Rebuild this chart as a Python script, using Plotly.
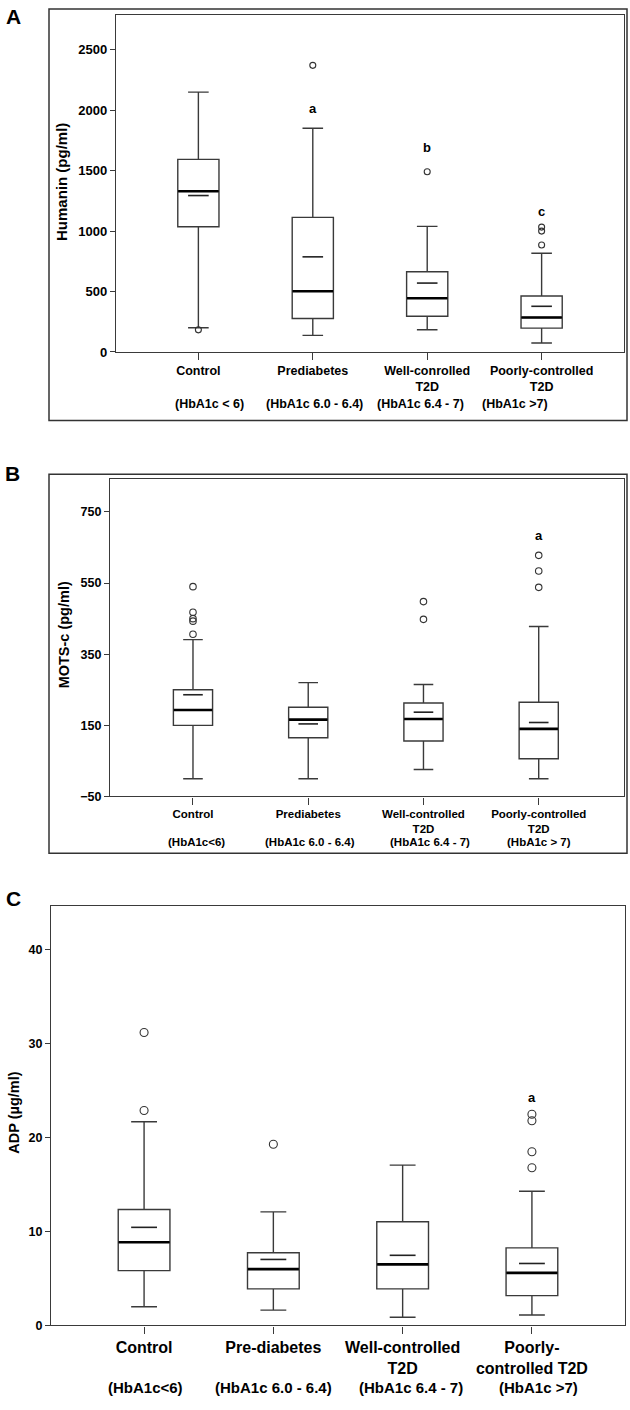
import plotly.graph_objects as go

W, H = 630, 1410

# ---------------- Panel A: Humanin ----------------
groups_A = ["Control", "Prediabetes", "Well-conrolled<br>T2D", "Poorly-controlled<br>T2D"]
hba1c_A = ["(HbA1c < 6)", "(HbA1c 6.0 - 6.4)", "(HbA1c 6.4 - 7)", "(HbA1c >7)"]
humanin_lower = [200, 137, 184, 74]
humanin_q1 = [1036, 277, 296, 197]
humanin_median = [1330, 502, 444, 285]
humanin_q3 = [1593, 1113, 664, 463]
humanin_upper = [2149, 1850, 1039, 817]
humanin_mean = [1294, 787, 570, 378]
humanin_out_group = [0, 1, 2, 3, 3, 3]
humanin_out_value = [183, 2371, 1491, 1033, 1000, 885]
humanin_sig_group = [1, 2, 3]
humanin_sig_text = ["a", "b", "c"]
humanin_sig_y = [2015, 1691, 1162]
humanin_ticks = [0, 500, 1000, 1500, 2000, 2500]

# ---------------- Panel B: MOTS-c ----------------
groups_B = ["Control", "Prediabetes", "Well-controlled<br>T2D", "Poorly-controlled<br>T2D"]
hba1c_B = ["(HbA1c<6)", "(HbA1c 6.0 - 6.4)", "(HbA1c 6.4 - 7)", "(HbA1c > 7)"]
mots_lower = [0, 0, 26, 0]
mots_q1 = [150, 115, 106, 56]
mots_median = [193, 166, 168, 140]
mots_q3 = [250, 201, 213, 215]
mots_upper = [391, 270, 265, 428]
mots_mean = [236, 154, 187, 158]
mots_out_group = [0, 0, 0, 0, 0, 2, 2, 3, 3, 3]
mots_out_value = [540, 468, 450, 443, 406, 498, 448, 628, 584, 538]
mots_sig_group = [3]
mots_sig_text = ["a"]
mots_sig_y = [685]
mots_ticks = [-50, 150, 350, 550, 750]

# ---------------- Panel C: ADP ----------------
groups_C = ["Control", "Pre-diabetes", "Well-controlled<br>T2D", "Poorly-<br>controlled T2D"]
hba1c_C = ["(HbA1c<6)", "(HbA1c 6.0 - 6.4)", "(HbA1c 6.4 - 7)", "(HbA1c >7)"]
adp_lower = [1.99, 1.63, 0.87, 1.11]
adp_q1 = [5.84, 3.89, 3.89, 3.18]
adp_median = [8.86, 6.0, 6.51, 5.6]
adp_q3 = [12.35, 7.74, 11.04, 8.26]
adp_upper = [21.7, 12.1, 17.08, 14.3]
adp_mean = [10.45, 7.03, 7.47, 6.6]
adp_out_group = [0, 0, 1, 3, 3, 3, 3]
adp_out_value = [31.2, 22.9, 19.3, 22.5, 21.8, 18.5, 16.8]
adp_sig_group = [3]
adp_sig_text = ["a"]
adp_sig_y = [24.3]
adp_ticks = [0, 10, 20, 30, 40]

FONT = "Liberation Sans, Arial, sans-serif"
LINE = "#3a3a3a"


def px_x(p):
    return p / W


def px_y(p):
    return 1 - p / H


fig = go.Figure()

panels = [
    dict(ax="", groups=groups_A, hba=hba1c_A, lower=humanin_lower, q1=humanin_q1, med=humanin_median,
         q3=humanin_q3, upper=humanin_upper, mean=humanin_mean, og=humanin_out_group, ov=humanin_out_value,
         sg=humanin_sig_group, st=humanin_sig_text, sy=humanin_sig_y, ticks=humanin_ticks,
         xdom=(116, 624), ydom=(15, 354), xr=[-0.72, 3.72], yr=[0, 2788], bw=0.36,
         title="Humanin (pg/ml)", title_xy=(62, 183), title_size=15,
         hba_x=[209, 314, 420, 515], hba_y=406, tick_size=13, cat_size=12.5, hba_size=12.5,
         osize=6, letter=("A", 13, 17), frame=(49, 9, 627, 423)),
    dict(ax="2", groups=groups_B, hba=hba1c_B, lower=mots_lower, q1=mots_q1, med=mots_median,
         q3=mots_q3, upper=mots_upper, mean=mots_mean, og=mots_out_group, ov=mots_out_value,
         sg=mots_sig_group, st=mots_sig_text, sy=mots_sig_y, ticks=mots_ticks,
         xdom=(110, 624), ydom=(482, 801), xr=[-0.72, 3.74], yr=[-50, 842], bw=0.34,
         title="MOTS-c (pg/ml)", title_xy=(64, 639), title_size=14.5,
         hba_x=[196, 310, 430, 539], hba_y=847, tick_size=12.5, cat_size=11.5, hba_size=11.5,
         osize=6.5, letter=("B", 12, 476), frame=(49, 477, 627, 858)),
    dict(ax="3", groups=groups_C, hba=hba1c_C, lower=adp_lower, q1=adp_q1, med=adp_median,
         q3=adp_q3, upper=adp_upper, mean=adp_mean, og=adp_out_group, ov=adp_out_value,
         sg=adp_sig_group, st=adp_sig_text, sy=adp_sig_y, ticks=adp_ticks,
         xdom=(51, 625), ydom=(911, 1333), xr=[-0.72, 3.72], yr=[0, 44.7], bw=0.40,
         title="ADP (µg/ml)", title_xy=(14, 1119), title_size=14.5,
         hba_x=[145, 273, 411, 538], hba_y=1395, tick_size=12.5, cat_size=16, hba_size=15,
         osize=8, letter=("C", 13, 904), frame=None),
]

annotations = []
shapes = []

for p in panels:
    xa = "x" + p["ax"]
    ya = "y" + p["ax"]
    pos = list(range(len(p["groups"])))
    px_per_unit = (p["xdom"][1] - p["xdom"][0]) / (p["xr"][1] - p["xr"][0])
    box_px = p["bw"] * px_per_unit

    fig.add_trace(go.Box(
        x=pos, q1=p["q1"], median=p["med"], q3=p["q3"],
        lowerfence=p["lower"], upperfence=p["upper"],
        boxpoints=False, width=p["bw"], whiskerwidth=0.5,
        fillcolor="white", line=dict(color=LINE, width=1.4),
        xaxis=xa, yaxis=ya, showlegend=False, hoverinfo="skip",
    ))
    # thick median
    fig.add_trace(go.Scatter(
        x=pos, y=p["med"], mode="markers", xaxis=xa, yaxis=ya, showlegend=False,
        marker=dict(symbol="line-ew", size=box_px / 1.4 - 0.5, color="black",
                    line=dict(color="black", width=2.6)),
        hoverinfo="skip",
    ))
    # mean marker
    fig.add_trace(go.Scatter(
        x=pos, y=p["mean"], mode="markers", xaxis=xa, yaxis=ya, showlegend=False,
        marker=dict(symbol="line-ew", size=box_px * 0.5 / 1.4, color="#222",
                    line=dict(color="#222", width=1.6)),
        hoverinfo="skip",
    ))
    # outliers
    fig.add_trace(go.Scatter(
        x=p["og"], y=p["ov"], mode="markers", xaxis=xa, yaxis=ya, showlegend=False,
        marker=dict(symbol="circle-open", size=p["osize"], color="#333",
                    line=dict(color="#333", width=1.1)),
        hoverinfo="skip",
    ))
    # significance letters
    for g, t, yv in zip(p["sg"], p["st"], p["sy"]):
        annotations.append(dict(x=g, y=yv, xref=xa, yref=ya, text=t, showarrow=False,
                                font=dict(family=FONT, size=13, color="black", weight="bold")))

    xkey = "xaxis" + p["ax"]
    ykey = "yaxis" + p["ax"]
    fig.update_layout(**{
        xkey: dict(domain=[px_x(p["xdom"][0]), px_x(p["xdom"][1])], range=p["xr"],
                   anchor=ya, tickvals=pos, ticktext=p["groups"], ticks="outside", ticklen=7,
                   tickcolor=LINE, tickwidth=1.2, showline=True, mirror=True, linecolor=LINE,
                   linewidth=1.3, showgrid=False, zeroline=False,
                   tickfont=dict(family=FONT, size=p["cat_size"], color="black", weight="bold")),
        ykey: dict(domain=[px_y(p["ydom"][1]), px_y(p["ydom"][0])], range=p["yr"],
                   anchor=xa, tickvals=p["ticks"], ticks="outside", ticklen=5,
                   tickcolor=LINE, tickwidth=1.2, showline=True, mirror=True, linecolor=LINE,
                   linewidth=1.3, showgrid=False, zeroline=False,
                   tickfont=dict(family=FONT, size=p["tick_size"], color="black", weight="bold")),
    })

    # y-axis title
    annotations.append(dict(x=px_x(p["title_xy"][0]), y=px_y(p["title_xy"][1]), xref="paper", yref="paper",
                            text=p["title"], textangle=-90, showarrow=False, xanchor="center", yanchor="middle",
                            font=dict(family=FONT, size=p["title_size"], color="black", weight="bold")))
    # HbA1c sub-labels
    for hx, ht in zip(p["hba_x"], p["hba"]):
        annotations.append(dict(x=px_x(hx), y=px_y(p["hba_y"]), xref="paper", yref="paper", text=ht,
                                showarrow=False, xanchor="center", yanchor="middle",
                                font=dict(family=FONT, size=p["hba_size"], color="black", weight="bold")))
    # panel letter
    lt, lx, ly = p["letter"]
    annotations.append(dict(x=px_x(lx), y=px_y(ly), xref="paper", yref="paper", text=lt, showarrow=False,
                            xanchor="center", yanchor="middle",
                            font=dict(family=FONT, size=21, color="black", weight="bold")))
    if p["frame"]:
        x0, y0, x1, y1 = p["frame"]
        shapes.append(dict(type="rect", xref="paper", yref="paper", x0=px_x(x0), x1=px_x(x1),
                           y0=px_y(y1), y1=px_y(y0), line=dict(color="#333", width=1.5)))

fig.update_layout(
    width=W, height=H, autosize=False,
    margin=dict(l=0, r=0, t=0, b=0),
    paper_bgcolor="white", plot_bgcolor="white",
    annotations=annotations, shapes=shapes, showlegend=False,
)

fig.write_html("out.html", config={"displayModeBar": False},
               post_script="document.body.style.margin='0';document.body.style.padding='0';")
